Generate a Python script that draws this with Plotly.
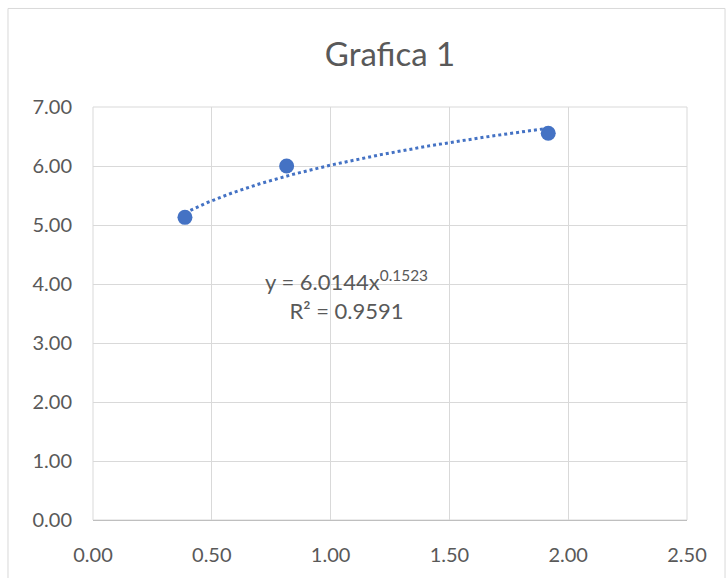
import numpy as np
import plotly.graph_objects as go

x_vals = [0.387, 0.815, 1.916]
y_vals = [5.13, 6.00, 6.556]
coef_a = 6.0144
coef_b = 0.1523
eq_text = "y = 6.0144x<sup>0.1523</sup><br>R² = 0.9591"
title = "Grafica 1"
x_ticks = [0, 0.5, 1.0, 1.5, 2.0, 2.5]
y_ticks = [0, 1, 2, 3, 4, 5, 6, 7]

xt = np.linspace(min(x_vals), max(x_vals), 200)
yt = coef_a * xt ** coef_b

blue = "#4472C4"
font = "Lato, Open Sans, sans-serif"

fig = go.Figure()
fig.add_trace(go.Scatter(x=xt, y=yt, mode="lines",
                         line=dict(color=blue, width=3, dash="dot"), hoverinfo="skip"))
fig.add_trace(go.Scatter(x=x_vals, y=y_vals, mode="markers",
                         marker=dict(color=blue, size=15)))

fig.update_layout(
    width=726, height=578,
    margin=dict(l=93, r=39, t=107, b=56),
    paper_bgcolor="white", plot_bgcolor="white",
    showlegend=False,
    title=dict(text=title, x=0.5, xref="paper", y=0.905, yanchor="middle",
               font=dict(family=font, size=33, color="#595959")),
    font=dict(family=font, color="#595959", size=20),
)
fig.update_xaxes(range=[0, 2.5], tickvals=x_ticks, tickformat=".2f",
                 showgrid=True, gridcolor="#d9d9d9", gridwidth=1,
                 zeroline=False, showline=True, linecolor="#bfbfbf", mirror=False,
                 ticks="", ticklabelstandoff=17)
fig.update_yaxes(range=[0, 7], tickvals=y_ticks, tickformat=".2f",
                 showgrid=True, gridcolor="#d9d9d9", gridwidth=1,
                 zeroline=False, showline=False, ticks="", ticklabelstandoff=20)
fig.add_shape(type="rect", xref="paper", yref="paper", x0=0, x1=1, y0=0, y1=1,
              line=dict(color="#d9d9d9", width=1), layer="below")
fig.add_shape(type="rect", xref="paper", yref="paper", x0=-0.1431, x1=1.064,
              y0=-0.2, y1=1.2386, line=dict(color="#d9d9d9", width=1))
fig.add_annotation(x=0.426, y=3.81, xref="paper", yref="y", text=eq_text,
                   showarrow=False, align="center",
                   font=dict(family=font, size=22, color="#595959"))

fig.write_html("out.html")
